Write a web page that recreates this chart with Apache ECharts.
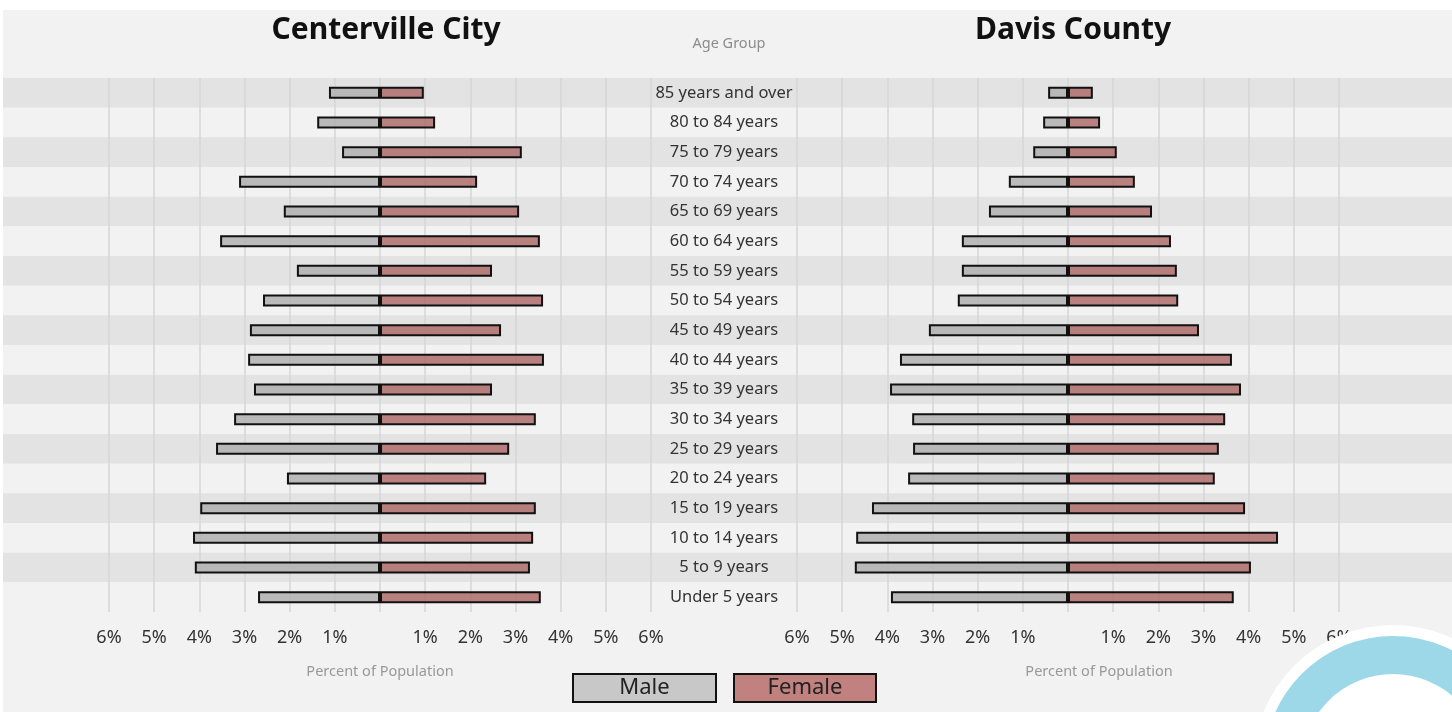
<!DOCTYPE html>
<html>
<head>
<meta charset="utf-8">
<script src="https://cdn.jsdelivr.net/npm/echarts@6/dist/echarts.min.js"></script>
<style>
  html, body { margin: 0; padding: 0; background: #fff; }
  #main { position: absolute; left: 3px; top: 10px; width: 1449px; height: 702px; }
</style>
</head>
<body>
<div id="main"></div>
<script>
var ageGroups = ['85 years and over', '80 to 84 years', '75 to 79 years', '70 to 74 years',
  '65 to 69 years', '60 to 64 years', '55 to 59 years', '50 to 54 years', '45 to 49 years',
  '40 to 44 years', '35 to 39 years', '30 to 34 years', '25 to 29 years', '20 to 24 years',
  '15 to 19 years', '10 to 14 years', '5 to 9 years', 'Under 5 years'];

// percent of population, top row first
var cityMale   = [1.13, 1.39, 0.84, 3.12, 2.13, 3.54, 1.84, 2.59, 2.88, 2.92, 2.79, 3.23, 3.63, 2.06, 3.98, 4.14, 4.10, 2.70];
var cityFemale = [0.97, 1.22, 3.14, 2.15, 3.08, 3.54, 2.48, 3.61, 2.68, 3.63, 2.48, 3.45, 2.86, 2.35, 3.45, 3.39, 3.32, 3.56];
var countyMale   = [0.44, 0.55, 0.77, 1.31, 1.75, 2.35, 2.35, 2.44, 3.08, 3.72, 3.94, 3.45, 3.43, 3.54, 4.34, 4.69, 4.72, 3.92];
var countyFemale = [0.55, 0.71, 1.08, 1.48, 1.86, 2.28, 2.41, 2.44, 2.90, 3.63, 3.83, 3.48, 3.34, 3.25, 3.92, 4.65, 4.05, 3.67];

var myChart = echarts.init(document.getElementById('main'));

var font = "'Noto Sans', 'Open Sans', sans-serif";
var maleFill = 'rgba(176,176,176,0.85)';
var femaleFill = 'rgba(174,108,106,0.85)';

function pctAxis(gridIndex, namePad) {
    return {
        type: 'value', gridIndex: gridIndex, min: -6, max: 6, interval: 1,
        axisLine: {show: false}, axisTick: {show: false},
        axisLabel: {
            margin: 17, color: '#333', fontSize: 18, fontFamily: font,
            formatter: function (v) { return v === 0 ? '' : Math.abs(v) + '%'; }
        },
        splitLine: {show: true, lineStyle: {color: '#d6d6d6', width: 1.5}},
        name: 'Percent of Population', nameLocation: 'middle', nameGap: 52,
        nameTextStyle: {color: '#999', fontSize: 14.5, fontFamily: font, padding: namePad}
    };
}

function bar(name, gridIdx, vals, sign, fill) {
    return {
        name: name, type: 'bar', stack: 'g' + gridIdx,
        xAxisIndex: gridIdx, yAxisIndex: gridIdx,
        barWidth: 12,
        data: vals.map(function (v) { return sign * v; }),
        itemStyle: {color: fill, borderColor: '#111', borderWidth: 2},
        emphasis: {disabled: true}
    };
}

option = {
    backgroundColor: '#f2f2f2',
    animation: false,
    title: [
        {text: 'Centerville City', left: 378, top: 0, textAlign: 'center',
         textStyle: {fontSize: 30, fontWeight: 'bold', color: '#111', fontFamily: font}},
        {text: 'Davis County', left: 1065, top: 0, textAlign: 'center',
         textStyle: {fontSize: 30, fontWeight: 'bold', color: '#111', fontFamily: font}},
        {text: 'Age Group', left: 721, top: 21, textAlign: 'center',
         textStyle: {fontSize: 14.5, fontWeight: 'normal', color: '#8c8c8c', fontFamily: font}}
    ],
    legend: {
        left: 560, top: 658, itemWidth: 0, itemHeight: 0, itemGap: 12,
        selectedMode: false,
        data: ['Male', 'Female'],
        formatter: function (n) { return '{' + (n === 'Male' ? 'm' : 'f') + '|' + n + '}'; },
        textStyle: {
            rich: {
                m: {width: 141, height: 26, lineHeight: 28, align: 'center', fontSize: 22, color: '#222',
                    fontFamily: font, backgroundColor: '#c8c8c8', borderColor: '#111', borderWidth: 2},
                f: {width: 140, height: 26, lineHeight: 28, align: 'center', fontSize: 22, color: '#222',
                    fontFamily: font, backgroundColor: '#c0817f', borderColor: '#111', borderWidth: 2}
            }
        }
    },
    grid: [
        {left: 106, width: 542, top: 68, height: 534},
        {left: 794, width: 542, top: 68, height: 534},
        {left: 0, right: 0, top: 68, height: 534}
    ],
    xAxis: [
        pctAxis(0, [0, 0, 0, 0]),
        pctAxis(1, [0, 0, 0, 62]),
        {type: 'value', gridIndex: 2, min: 0, max: 1, show: false}
    ],
    yAxis: [
        {type: 'category', gridIndex: 0, data: ageGroups, inverse: true, position: 'right',
         axisLine: {show: false, onZero: false}, axisTick: {show: false},
         axisLabel: {margin: 73, align: 'center', fontSize: 16.5, color: '#333', fontFamily: font}},
        {type: 'category', gridIndex: 1, data: ageGroups, inverse: true,
         axisLine: {show: false}, axisTick: {show: false}, axisLabel: {show: false}},
        {type: 'category', gridIndex: 2, data: ageGroups, inverse: true, z: -1,
         axisLine: {show: false}, axisTick: {show: false}, axisLabel: {show: false},
         splitArea: {show: true, areaStyle: {color: ['#e3e3e3', '#f2f2f2']}}}
    ],
    graphic: [
        {type: 'circle', shape: {cx: 1390, cy: 755, r: 140}, style: {fill: '#ffffff'}, z: 100},
        {type: 'ring', shape: {cx: 1390, cy: 755, r: 129, r0: 91}, style: {fill: '#9dd8e8'}, z: 101}
    ],
    series: [
        bar('Male', 0, cityMale, -1, maleFill),
        bar('Female', 0, cityFemale, 1, femaleFill),
        bar('Male', 1, countyMale, -1, maleFill),
        bar('Female', 1, countyFemale, 1, femaleFill)
    ]
};

myChart.setOption(option);
</script>
</body>
</html>
